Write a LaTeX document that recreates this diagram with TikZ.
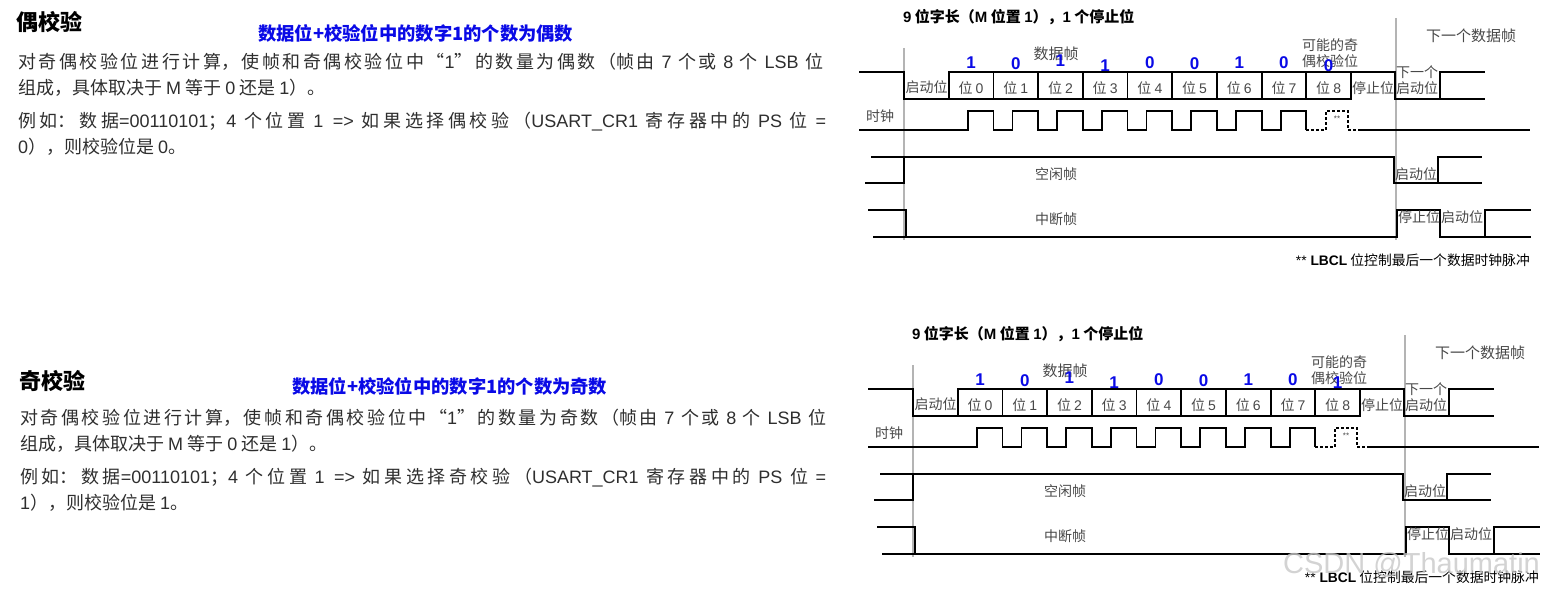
\documentclass[tikz,border=0pt]{standalone}
\usepackage{fontspec}
\setmainfont{Noto Sans CJK SC}
\newfontfamily\arialfont{Liberation Sans}
\newcommand\latn[1]{{\arialfont #1}}
\XeTeXlinebreaklocale "zh"
\XeTeXlinebreakskip=0pt plus 2pt
\setlength\parindent{0pt}
\tolerance=9999
\usetikzlibrary{positioning}
\definecolor{Ink}{HTML}{2E2E2E}
\definecolor{Label}{HTML}{484848}
\definecolor{BitBlue}{HTML}{0A0AE6}
\definecolor{Guide}{HTML}{B4B4B4}
\definecolor{Stamp}{HTML}{C8C8C8}
\tikzset{
  sig/.style={line width=1.8pt},
  guide/.style={Guide,line width=1.2pt},
  lbl/.style={color=Label,font=\fontsize{14}{16}\selectfont,inner sep=0pt,align=center},
  bitval/.style={color=BitBlue,font=\bfseries\arialfont\fontsize{17}{17}\selectfont,inner sep=0pt},
  caption/.style={font=\bfseries\fontsize{15}{17}\selectfont,inner sep=0pt,anchor=west},
  headline/.style={font=\bfseries\fontsize{22}{24}\selectfont,inner sep=0pt,anchor=west},
  rulenote/.style={color=BitBlue,font=\bfseries\fontsize{18.3}{20}\selectfont,inner sep=0pt,anchor=west},
  body/.style={color=Ink,font=\fontsize{18}{26}\selectfont,inner sep=0pt,anchor=west,align=justify},
  wmark/.style={color=Stamp,opacity=0.8,font=\arialfont\fontsize{29}{29}\selectfont,inner sep=0pt,anchor=west}
}

\begin{document}
\begin{tikzpicture}[x=1pt,y=-1pt]
  \useasboundingbox (0,0) rectangle (1542,591);
  % left column: even parity
  \node[headline] (evenhead) at (16,22) {偶校验};
  \node[rulenote] (evenrule) at (258,33) {数据位+校验位中的数字1的个数为偶数};
  \node[body,text width=805pt] (evenp1) at (18,75) {对奇偶校验位进行计算，使帧和奇偶校验位中“\latn{1}”的数量为偶数（帧由 \latn{7} 个或 \latn{8} 个 \latn{LSB} 位\linebreak 组成，具体取决于 \latn{M} 等于 \latn{0} 还是 \latn{1}）。};
  \node[body,text width=808pt] (evenp2) at (18,133.5) {例如：数据\latn{=00110101}；\latn{4} 个位置 \latn{1 =>} 如果选择偶校验（\latn{USART\_CR1} 寄存器中的 \latn{PS} 位 \latn{=}\linebreak \latn{0}），则校验位是 \latn{0}。};
  % left column: odd parity
  \node[headline] (oddhead) at (19,381) {奇校验};
  \node[rulenote] (oddrule) at (292,386) {数据位+校验位中的数字1的个数为奇数};
  \node[body,text width=806pt] (oddp1) at (20,431) {对奇偶校验位进行计算，使帧和奇偶校验位中“\latn{1}”的数量为奇数（帧由 \latn{7} 个或 \latn{8} 个 \latn{LSB} 位\linebreak 组成，具体取决于 \latn{M} 等于 \latn{0} 还是 \latn{1}）。};
  \node[body,text width=806pt] (oddp2) at (20,489.5) {例如：数据\latn{=00110101}；\latn{4} 个位置 \latn{1 =>} 如果选择奇校验（\latn{USART\_CR1} 寄存器中的 \latn{PS} 位 \latn{=}\linebreak \latn{1}），则校验位是 \latn{1}。};

  % right column: the two frame diagrams
  \foreach \dx/\dy/\tag/\bits in {0/0/even/{1/63,0/64,1/61,1/66,0/63,0/64,1/63,0/63,0/66},
                                  9/317/odd/{1/63,0/64,1/61,1/66,0/63,0/64,1/63,0/63,1/66}} {
    \begin{scope}[shift={(\dx,\dy)}]
      \draw[guide] (904,48) -- (904,240);
      \draw[guide] (1396,18) -- (1396,240);
      \node[caption] (title-\tag) at (903,17) {\latn{9} 位字长（\latn{M} 位置 \latn{1}），\latn{1} 个停止位};
      \node[lbl,font=\fontsize{15}{17}\selectfont] (data-\tag) at (1056,54) {数据帧};
      \node[lbl] (parity-\tag) at (1330,53) {可能的奇\\偶校验位};
      \node[lbl,font=\fontsize{15}{17}\selectfont] (nextframe-\tag) at (1471,36) {下一个数据帧};
      % data frame
      \draw[sig] (859,72) -- (904,72) -- (904,99) -- (1351,99) -- (1351,72);
      \draw[sig] (949,99) -- (949,72) -- (1395,72) -- (1395,99) -- (1485,99);
      \draw[sig] (1440,99) -- (1440,72) -- (1485,72);
      \foreach \k in {2,...,9}
        \draw[sig] ({904+44.7*\k},72) -- ({904+44.7*\k},99);
      \node[lbl] (start-\tag) at (926.5,87) {启动位};
      \foreach \v/\y [count=\k from 0] in \bits {
        \node[lbl] (bit\k-\tag) at ({904+44.7*(\k+1.5)},88) {位 \latn{\k}};
        \node[bitval] (val\k-\tag) at ({904+44.7*(\k+1.5)},\y) {\v};
      }
      \node[lbl] (stop-\tag) at (1373,88) {停止位};
      \node[lbl] (nextstart-\tag) at (1417,80) {下一个\\启动位};
      % clock
      \node[lbl] (clk-\tag) at (880,116) {时钟};
      \draw[sig] (859,130) \foreach \k in {0,...,7} {
          -- ({967.7+44.7*\k},130) -- ({967.7+44.7*\k},111)
          -- ({993.4+44.7*\k},111) -- ({993.4+44.7*\k},130)};
      \draw[sig,densely dashed] (1306.3,130) -- (1326,130) -- (1326,111) -- (1348,111) -- (1348,130) -- (1360,130);
      \draw[sig] (1360,130) -- (1530,130);
      \node[lbl,font=\arialfont\fontsize{8}{8}\selectfont] (lbcl-\tag) at (1337,119) {**};
      % idle frame
      \draw[sig] (865,183) -- (904,183) -- (904,157);
      \draw[sig] (871,157) -- (1394,157) -- (1394,183) -- (1482,183);
      \draw[sig] (1438,183) -- (1438,157) -- (1482,157);
      \node[lbl] (idle-\tag) at (1056,174) {空闲帧};
      \node[lbl] (idlestart-\tag) at (1416,174) {启动位};
      % break frame
      \draw[sig] (868,210) -- (906,210) -- (906,237);
      \draw[sig] (873,237) -- (1397,237) -- (1397,210) -- (1440,210) -- (1440,237) -- (1531,237);
      \draw[sig] (1485,237) -- (1485,210) -- (1531,210);
      \node[lbl] (brk-\tag) at (1056,219) {中断帧};
      \node[lbl] (brkstop-\tag) at (1419,217) {停止位};
      \node[lbl] (brkstart-\tag) at (1462,217) {启动位};
      \node[lbl,color=black,anchor=east,font=\fontsize{13.8}{15}\selectfont] (foot-\tag) at (1530,260) {\latn{** \textbf{LBCL}} 位控制最后一个数据时钟脉冲};
    \end{scope}
  }
  \node[wmark] (stamp) at (1283,565) {CSDN @Thaumatin};
\end{tikzpicture}
\end{document}
